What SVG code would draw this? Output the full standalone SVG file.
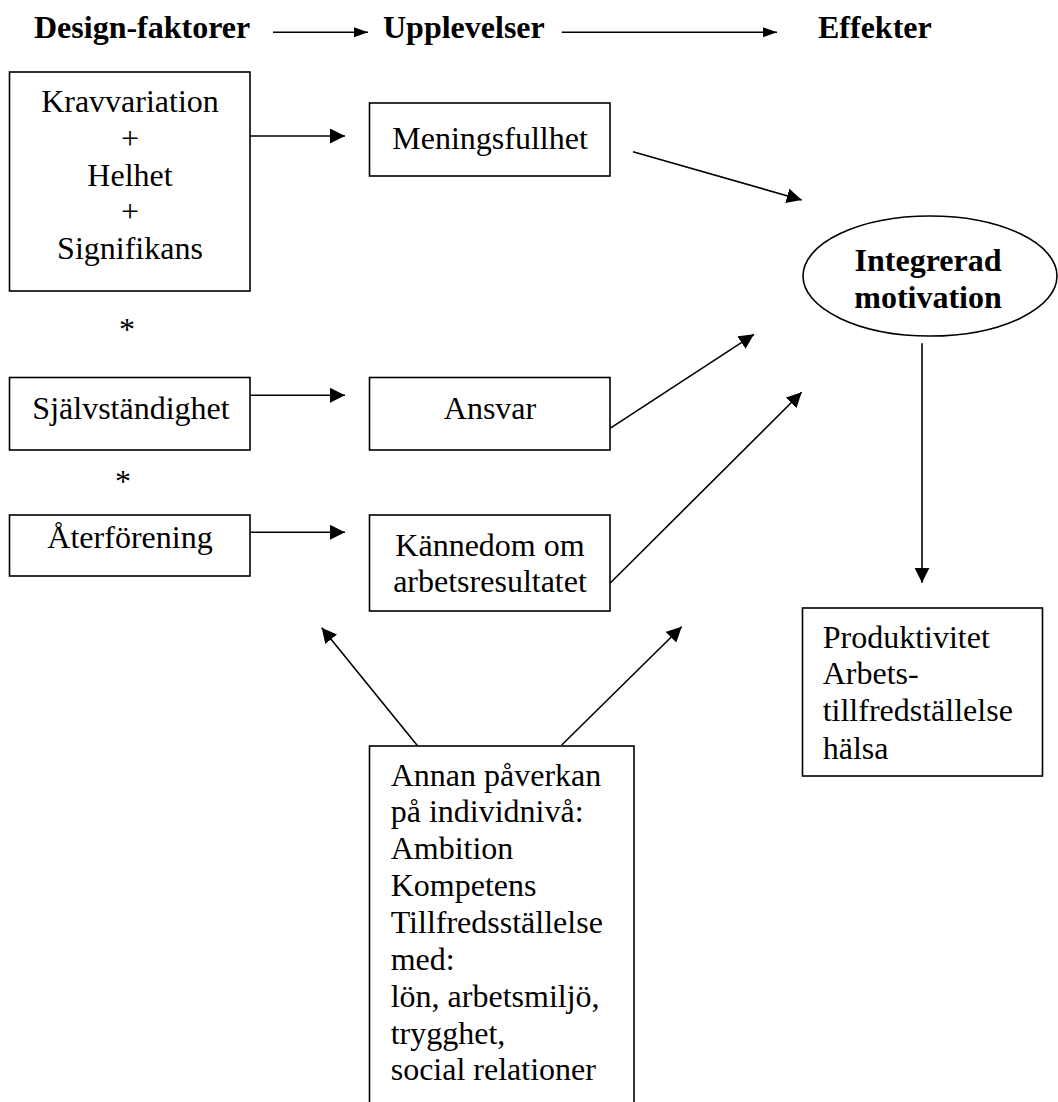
<svg xmlns="http://www.w3.org/2000/svg" width="1058" height="1102" viewBox="0 0 1058 1102">
<style>
.t { font-family: "Liberation Serif", "Times New Roman", serif; font-size: 32px; fill: #000; }
.b { font-weight: bold; }
.m { text-anchor: middle; }
.box { fill: #fff; stroke: #000; stroke-width: 1.6; }
.ln { stroke: #000; stroke-width: 1.6; fill: none; }
.arr { marker-end: url(#ah); }
.arrs { marker-end: url(#ahs); }
</style>
<defs>
<marker id="ah" markerUnits="userSpaceOnUse" markerWidth="16" markerHeight="16" refX="15" refY="7.5" orient="auto">
<path d="M0,0 L15,7.5 L0,15 z" fill="#000"/>
</marker>
<marker id="ahs" markerUnits="userSpaceOnUse" markerWidth="15" markerHeight="11" refX="14" refY="5" orient="auto">
<path d="M0,0 L14,5 L0,10 z" fill="#000"/>
</marker>
</defs>
<rect x="0" y="0" width="1058" height="1102" fill="#fff"/>

<g id="connectors">
<line class="ln arrs" x1="273" y1="32.3" x2="368" y2="32.3"/>
<line class="ln arrs" x1="561.7" y1="32.3" x2="777" y2="32.3"/>
<line class="ln arr" x1="250" y1="136" x2="345" y2="136"/>
<line class="ln arr" x1="250" y1="395.3" x2="345" y2="395.3"/>
<line class="ln arr" x1="250" y1="532.3" x2="345" y2="532.3"/>
<line class="ln arr" x1="633" y1="151.7" x2="801.7" y2="200"/>
<line class="ln arr" x1="610" y1="428.3" x2="754" y2="334.3"/>
<line class="ln arr" x1="610" y1="583.3" x2="801.7" y2="392.3"/>
<line class="ln arr" x1="922" y1="343.3" x2="922" y2="582.7"/>
<line class="ln arr" x1="418.3" y1="746.7" x2="321.7" y2="627.7"/>
<line class="ln arr" x1="561.7" y1="745" x2="681.7" y2="626.7"/>
</g>

<g id="hdr-design"><text class="t b" x="34" y="37.5">Design-faktorer</text></g>
<g id="hdr-upplevelser"><text class="t b" x="383" y="37.5">Upplevelser</text></g>
<g id="hdr-effekter"><text class="t b" x="818" y="37.5">Effekter</text></g>

<g id="n-krav">
<rect class="box" x="9.5" y="72" width="240.5" height="219"/>
<text class="t m" x="130" y="112">Kravvariation</text>
<text class="t m" x="130" y="148.8">+</text>
<text class="t m" x="130" y="185.6">Helhet</text>
<text class="t m" x="130" y="222.3">+</text>
<text class="t m" x="130" y="259.3">Signifikans</text>
</g>

<g id="ast-1"><text class="t m" x="127" y="340">*</text></g>
<g id="ast-2"><text class="t m" x="123" y="492">*</text></g>

<g id="n-meningsfullhet">
<rect class="box" x="369.5" y="103" width="240.5" height="73"/>
<text class="t m" x="490" y="148.5">Meningsfullhet</text>
</g>

<g id="n-sjalv">
<rect class="box" x="9.5" y="377.5" width="240.5" height="72.5"/>
<text class="t m" x="131" y="419">Självständighet</text>
</g>

<g id="n-ansvar">
<rect class="box" x="369.5" y="377.5" width="240.5" height="72.5"/>
<text class="t m" x="490" y="419">Ansvar</text>
</g>

<g id="n-ater">
<rect class="box" x="9.5" y="515" width="240.5" height="61"/>
<text class="t m" x="130" y="548">Återförening</text>
</g>

<g id="n-kannedom">
<rect class="box" x="369.5" y="515" width="240.5" height="96"/>
<text class="t m" x="490" y="555.5">Kännedom om</text>
<text class="t m" x="490" y="592.2">arbetsresultatet</text>
</g>

<g id="n-integrerad">
<ellipse class="box" cx="930" cy="276" rx="127" ry="60"/>
<text class="t b m" x="928" y="270.5">Integrerad</text>
<text class="t b m" x="928" y="307.5">motivation</text>
</g>

<g id="n-produktivitet">
<rect class="box" x="802.5" y="608" width="240" height="168"/>
<text class="t" x="822.7" y="647.8">Produktivitet</text>
<text class="t" x="822.7" y="684">Arbets-</text>
<text class="t" x="822.7" y="721.2">tillfredställelse</text>
<text class="t" x="822.7" y="758.8">hälsa</text>
</g>

<g id="n-annan">
<rect class="box" x="369.5" y="746" width="264.5" height="370"/>
<text class="t" x="390.7" y="785.5">Annan påverkan</text>
<text class="t" x="390.7" y="822.2">på individnivå:</text>
<text class="t" x="390.7" y="859.3">Ambition</text>
<text class="t" x="390.7" y="896.3">Kompetens</text>
<text class="t" x="390.7" y="933">Tillfredsställelse</text>
<text class="t" x="390.7" y="969.7">med:</text>
<text class="t" x="390.7" y="1007">lön, arbetsmiljö,</text>
<text class="t" x="390.7" y="1043.7">trygghet,</text>
<text class="t" x="390.7" y="1080.3">social relationer</text>
</g>
</svg>
